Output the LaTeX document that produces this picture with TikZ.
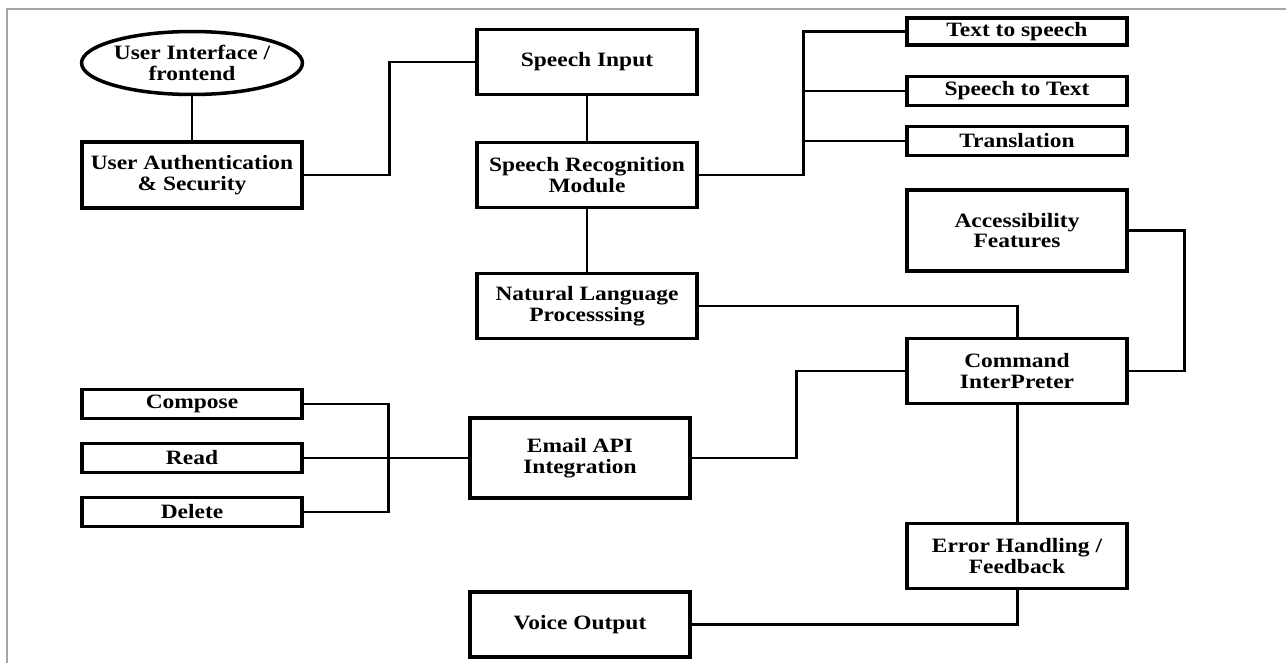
\documentclass[tikz,border=0pt]{standalone}
\usepackage{fontspec}
\setmainfont[FakeStretch=1.15]{Liberation Serif}
\usetikzlibrary{shapes.geometric}

\begin{document}
\begin{tikzpicture}[x=0.02cm, y=0.02cm,
  box/.style={draw=black, line width=2pt, align=center, inner sep=0pt,
    minimum width=4.4cm, minimum height=1.3cm,
    font=\bfseries\fontsize{11.6}{11.6}\selectfont},
  tab/.style={box, minimum height=0.58cm},
  wire/.style={black, line width=1.7pt}]
\useasboundingbox (0,0) rectangle (1286,-663);
\draw [gray!70, line width=0.8pt] (7,-663) -- (7,-9) -- (1286,-9);
\node [box, ellipse, minimum height=1.26cm] (ui) at (192,-63) {User Interface /\\frontend};
\node [box, minimum height=1.32cm] (auth) at (192,-175) {User Authentication\\\& Security};
\node [box] (spin) at (587,-62) {Speech Input};
\node [box] (srm) at (587,-175) {Speech Recognition\\Module};
\node [box] (nlp) at (587,-306) {Natural Language\\Processsing};
\node [tab, minimum height=0.55cm] (tts) at (1017,-31.5) {Text to speech};
\node [tab] (stt) at (1017,-91) {Speech to Text};
\node [tab] (trans) at (1017,-141) {Translation};
\node [box, minimum height=1.62cm] (acc) at (1017,-230.5) {Accessibility\\Features};
\node [box] (ci) at (1017,-371) {Command\\InterPreter};
\node [box] (eh) at (1017,-556) {Error Handling /\\Feedback};
\node [box, minimum height=1.6cm] (email) at (580,-458) {Email API\\Integration};
\node [box] (voice) at (580,-624.5) {Voice Output};
\node [tab] (compose) at (192,-404) {Compose};
\node [tab] (read) at (192,-458) {Read};
\node [tab] (delete) at (192,-512) {Delete};
\draw [wire] (ui) -- (auth);
\draw [wire] (auth.east) -- ++(86,0) |- (spin.west);
\draw [wire] (spin) -- (srm);
\draw [wire] (srm) -- (nlp);
\draw [wire] (srm.east) -- ++(105,0) coordinate (sfork) |- (tts.west);
\draw [wire] (sfork |- stt.west) -- (stt.west);
\draw [wire] (sfork |- trans.west) -- (trans.west);
\draw [wire] (nlp.east) -| (ci.north);
\draw [wire] (acc.east) -- ++(56,0) |- (ci.east);
\draw [wire] (ci.west) -- ++(-109,0) |- (email.east);
\draw [wire] (ci) -- (eh);
\draw [wire] (eh.south) |- (voice.east);
\draw [wire] (compose.east) -- ++(85,0) coordinate (mfork) |- (delete.east);
\draw [wire] (read.east) -- (email.west);
\end{tikzpicture}
\end{document}
